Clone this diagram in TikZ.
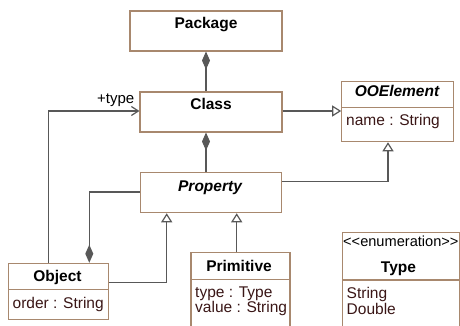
\documentclass[tikz,border=0pt]{standalone}
\usepackage{fontspec}
\setmainfont{Liberation Sans}
\usetikzlibrary{arrows.meta,calc}
\definecolor{boxc}{RGB}{168,136,110}
\definecolor{linec}{RGB}{88,88,88}
\definecolor{attrc}{RGB}{58,22,22}
\begin{document}
\begin{tikzpicture}[x=1pt,y=-1pt,
  cbox/.style={draw=boxc, line width=1.1pt, fill=white, inner sep=0pt},
  divider/.style={draw=boxc, line width=1.1pt},
  title/.style={font=\fontsize{15.5}{15}\selectfont\bfseries, anchor=base, inner sep=0pt},
  ititle/.style={title, font=\fontsize{15.5}{15}\selectfont\bfseries\itshape},
  attr/.style={font=\fontsize{15.5}{15}\selectfont, text=attrc, anchor=base west, inner sep=0pt},
  stereo/.style={font=\fontsize{14.6}{14}\selectfont, anchor=base west, inner sep=0pt},
  conn/.style={draw=linec, line width=1.2pt},
  comp/.style={conn, {Diamond[length=18pt,width=8pt,fill=linec,color=linec]}-},
  gen/.style={conn, -{Triangle[open,length=9pt,width=11pt,fill=white,color=linec]}},
  assoc/.style={conn, -{Straight Barb[length=7pt,width=9pt,color=linec]}},
  lbl/.style={font=\fontsize{15}{15}\selectfont, anchor=base east, inner sep=0pt}
]
\useasboundingbox (0,0) rectangle (460,326);
\clip (0,0) rectangle (460,326);
\fill[white] (0,0) rectangle (460,326);

% boxes
\node[cbox, minimum width=152pt, minimum height=40pt] (pkg) at (206,31) {};
\node[cbox, minimum width=142pt, minimum height=40pt] (cls) at (211,112) {};
\node[cbox, minimum width=111.3pt, minimum height=60pt] (ooe) at (397.4,111.7) {};
\node[cbox, minimum width=141.7pt, minimum height=40pt] (prop) at (210.9,192.7) {};
\node[cbox, minimum width=100pt, minimum height=56pt] (obj) at (58.3,291.3) {};
\node[cbox, minimum width=99pt, minimum height=80pt] (prim) at (240.5,292.7) {};
\node[cbox, minimum width=117pt, minimum height=100pt] (typ) at (400.8,282.7) {};

% dividers
\draw[divider] (341.7,107.7) -- (453,107.7);
\draw[divider] (8.3,289.3) -- (108.3,289.3);
\draw[divider] (191,279.3) -- (290,279.3);
\draw[divider] (342.3,280) -- (459.3,280);

% texts
\node[title] (tpkg) at (206,28.5) {Package};
\node[title] (tcls) at (211,110) {Class};
\node[ititle] (tooe) at (397,97) {OOElement};
\node[attr] (aooe) at (346,125) {name : String};
\node[ititle] (tprop) at (210,191.5) {Property};
\node[title] (tobj) at (57.5,281.7) {Object};
\node[attr] (aobj) at (12.5,308.3) {order : String};
\node[title] (tprim) at (239,271.7) {Primitive};
\node[attr] (aprim1) at (195,297.3) {type : Type};
\node[attr] (aprim2) at (195,312.7) {value : String};
\node[stereo] (styp) at (343,246.7) {<\kern0pt<enumeration>\kern0pt>};
\node[title] (ttyp) at (398.5,272.7) {Type};
\node[attr] (atyp1) at (346.5,298.3) {String};
\node[attr] (atyp2) at (346.5,314) {Double};

% connectors
\draw[comp] (pkg.south) -- (pkg.south |- cls.north);
\draw[comp] (pkg.south |- cls.south) -- (pkg.south |- prop.north);
\draw[gen] ([yshift=1pt]cls.east) -- ([yshift=1pt]cls.east -| ooe.west);
\draw[gen] ([yshift=11pt]prop.east) -| ([xshift=-9.4pt]ooe.south);
\draw[gen] ([yshift=8.6pt]obj.east) -| ([xshift=-44.2pt]prop.south);
\draw[gen] ([xshift=-3.8pt]prim.north) -- ([xshift=-3.8pt]prim.north |- prop.south);
\draw[comp] ([xshift=31pt]obj.north) |- ([yshift=0.7pt]prop.west);
\draw[assoc] ([xshift=-10pt]obj.north) |- ([yshift=1pt]cls.west);
\node[lbl] (ltype) at (134.5,104) {+type};
\end{tikzpicture}
\end{document}
